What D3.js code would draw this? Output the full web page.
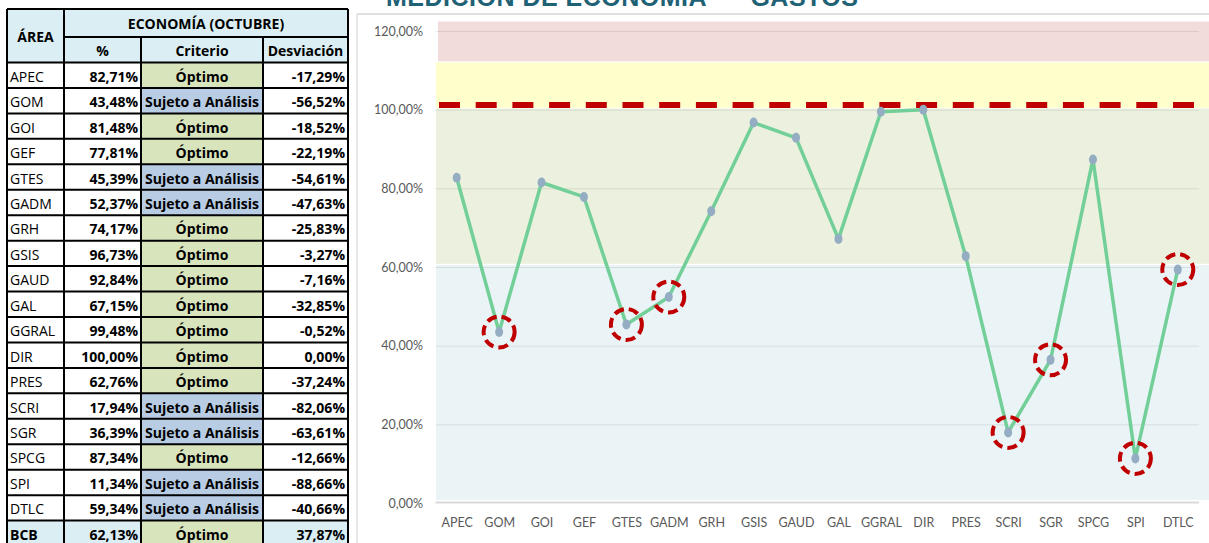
<!DOCTYPE html>
<html>
<head>
<meta charset="utf-8">
<script src="https://cdn.jsdelivr.net/npm/d3@7"></script>
<style>
  body { margin: 0; background: #fff; overflow: hidden; }
  svg { display: block; }
</style>
</head>
<body>
<svg id="chart"></svg>
<script>
// ---- data ----
const areas = ["APEC", "GOM", "GOI", "GEF", "GTES", "GADM", "GRH", "GSIS", "GAUD",
               "GAL", "GGRAL", "DIR", "PRES", "SCRI", "SGR", "SPCG", "SPI", "DTLC"];
const pct = [82.71, 43.48, 81.48, 77.81, 45.39, 52.37, 74.17, 96.73, 92.84,
             67.15, 99.48, 100.00, 62.76, 17.94, 36.39, 87.34, 11.34, 59.34];
const criterio = ["Óptimo", "Sujeto a Análisis", "Óptimo", "Óptimo", "Sujeto a Análisis",
                  "Sujeto a Análisis", "Óptimo", "Óptimo", "Óptimo", "Óptimo", "Óptimo",
                  "Óptimo", "Óptimo", "Sujeto a Análisis", "Sujeto a Análisis", "Óptimo",
                  "Sujeto a Análisis", "Sujeto a Análisis"];
const desviacion = [-17.29, -56.52, -18.52, -22.19, -54.61, -47.63, -25.83, -3.27, -7.16,
                    -32.85, -0.52, 0.00, -37.24, -82.06, -63.61, -12.66, -88.66, -40.66];
const totalRow = ["BCB", 62.13, "Óptimo", 37.87];
const headerTop = ["ÁREA", "ECONOMÍA (OCTUBRE)"];
const headerSub = ["%", "Criterio", "Desviación"];

const yTicks = [0, 20, 40, 60, 80, 100, 120];
const bandLo = [0.8, 60.8, 100.5, 112.3];
const bandHi = [60.5, 100.3, 112.0, 122.4];
const bandColors = ["#eaf4f7", "#ebf1de", "#ffffcc", "#f2dcdb"];
const refLine = 101.2;
const title = "MEDICIÓN DE ECONOMÍA  –  GASTOS";

// ---- setup ----
const width = 1209, height = 543;
const svg = d3.select("#chart").attr("width", width).attr("height", height);

const es = d3.formatLocale({ decimal: ",", thousands: ".", grouping: [3], currency: ["", "€"], minus: "-" });
const fmt = v => es.format(".2f")(v) + "%";

// ---- table ----
const colX = [7, 64, 141, 263, 348];
const rowTop = 62.5, rowH = 25.45;
const tableFont = "'Open Sans', sans-serif";
const table = svg.append("g").attr("font-family", tableFont).attr("font-size", "14px");

const rows = areas.map((a, i) => ({ area: a, pct: pct[i], crit: criterio[i], desv: desviacion[i], total: false }));
rows.push({ area: totalRow[0], pct: totalRow[1], crit: totalRow[2], desv: totalRow[3], total: true });

const critColor = c => c === "Óptimo" ? "#d8e4bc" : "#b8cce4";
const headBg = "#daeef3";

// header cells
table.append("rect").attr("x", colX[0]).attr("y", 9).attr("width", colX[4] - colX[0]).attr("height", rowTop - 9)
  .attr("fill", headBg);

rows.forEach((r, i) => {
  const y0 = rowTop + i * rowH;
  const g = table.append("g");
  const cells = [
    { x0: colX[0], x1: colX[1], fill: r.total ? headBg : "#fff" },
    { x0: colX[1], x1: colX[2], fill: r.total ? headBg : "#fff" },
    { x0: colX[2], x1: colX[3], fill: critColor(r.crit) },
    { x0: colX[3], x1: colX[4], fill: r.total ? headBg : "#fff" }
  ];
  g.selectAll("rect").data(cells).join("rect")
    .attr("x", d => d.x0).attr("y", y0).attr("width", d => d.x1 - d.x0).attr("height", rowH)
    .attr("fill", d => d.fill);
  const cy = y0 + rowH / 2 + 1;
  g.append("text").attr("x", colX[0] + 3).attr("y", cy).attr("dominant-baseline", "central")
    .attr("font-weight", r.total ? "bold" : "normal").text(r.area);
  g.append("text").attr("x", colX[2] - 3).attr("y", cy).attr("dominant-baseline", "central")
    .attr("text-anchor", "end").attr("font-weight", "bold").text(fmt(r.pct));
  g.append("text").attr("x", (colX[2] + colX[3]) / 2).attr("y", cy).attr("dominant-baseline", "central")
    .attr("text-anchor", "middle").attr("font-weight", "bold").text(r.crit);
  g.append("text").attr("x", colX[4] - 3).attr("y", cy).attr("dominant-baseline", "central")
    .attr("text-anchor", "end").attr("font-weight", "bold").text(fmt(r.desv));
});

// header text
table.append("text").attr("x", (colX[0] + colX[1]) / 2).attr("y", 36).attr("dominant-baseline", "central")
  .attr("text-anchor", "middle").attr("font-weight", "bold").text(headerTop[0]);
table.append("text").attr("x", (colX[1] + colX[4]) / 2).attr("y", 23).attr("dominant-baseline", "central")
  .attr("text-anchor", "middle").attr("font-weight", "bold").text(headerTop[1]);
headerSub.forEach((h, i) => {
  table.append("text").attr("x", (colX[i + 1] + colX[i + 2]) / 2).attr("y", 50.5)
    .attr("dominant-baseline", "central").attr("text-anchor", "middle").attr("font-weight", "bold").text(h);
});

// grid lines of the table
const tableBottom = rowTop + rows.length * rowH;
const lines = table.append("g").attr("stroke", "#000").attr("stroke-width", 2);
colX.forEach((x, i) => {
  const yStart = (i === 2 || i === 3) ? 37 : 9;
  lines.append("line").attr("x1", x).attr("x2", x).attr("y1", yStart).attr("y2", tableBottom);
});
lines.append("line").attr("x1", colX[0]).attr("x2", colX[4]).attr("y1", 9).attr("y2", 9);
lines.append("line").attr("x1", colX[1]).attr("x2", colX[4]).attr("y1", 37).attr("y2", 37);
d3.range(rows.length + 1).forEach(i => {
  const y = rowTop + i * rowH;
  lines.append("line").attr("x1", colX[0]).attr("x2", colX[4]).attr("y1", y).attr("y2", y);
});

// ---- chart ----
const plotLeft = 435.5, plotRight = 1199;
const x = d3.scalePoint().domain(areas).range([plotLeft, plotRight]).padding(0.5);
const y = d3.scaleLinear().domain([0, 120]).range([503, 31]);

// frame of the chart object
svg.append("line").attr("x1", 357).attr("x2", width).attr("y1", 14).attr("y2", 14)
  .attr("stroke", "#e0e0e0").attr("stroke-width", 2);
svg.append("line").attr("x1", 357).attr("x2", 357).attr("y1", 14).attr("y2", height)
  .attr("stroke", "#e0e0e0").attr("stroke-width", 1.5);

// title (cut by the top of the picture, as in the original)
svg.append("text").attr("x", 386).attr("y", 6)
  .attr("font-family", "'Liberation Sans', Arial, sans-serif").attr("font-weight", "bold")
  .attr("font-size", "25px").attr("letter-spacing", "0.5px").style("white-space", "pre")
  .attr("fill", "#1f6175").text(title);

// bands
svg.append("g").selectAll("rect").data(bandLo).join("rect")
  .attr("x", (d, i) => i === 3 ? 438 : 436)
  .attr("width", (d, i) => width - (i === 3 ? 438 : 436))
  .attr("y", (d, i) => y(bandHi[i]))
  .attr("height", (d, i) => y(d) - y(bandHi[i]))
  .attr("fill", (d, i) => bandColors[i]);

// gridlines
const grid = svg.append("g").attr("transform", `translate(${plotLeft},0)`)
  .call(d3.axisLeft(y).tickValues(yTicks.slice(1)).tickSize(-(plotRight - plotLeft)).tickFormat(""));
grid.select(".domain").remove();
grid.selectAll("line").attr("stroke", "#000").attr("stroke-opacity", 0.09);

// y axis labels
const yAxis = svg.append("g").attr("transform", `translate(423,0)`)
  .call(d3.axisLeft(y).tickValues(yTicks).tickSize(0).tickPadding(0).tickFormat(v => fmt(v)));
yAxis.select(".domain").remove();
yAxis.selectAll("text").attr("font-family", "Lato, sans-serif").attr("font-size", "12.5px").attr("fill", "#595959");

// x axis
const xAxis = svg.append("g").attr("transform", `translate(0,502.5)`)
  .call(d3.axisBottom(x).tickSize(0).tickPadding(16));
xAxis.select(".domain").attr("stroke", "#d9d9d9").attr("stroke-width", 2)
  .attr("d", `M${plotLeft},0H${plotRight}`);
xAxis.selectAll("text").attr("font-family", "Lato, sans-serif").attr("font-size", "12.5px").attr("fill", "#595959");

// reference dashed line
svg.append("line").attr("x1", 439).attr("x2", 1194).attr("y1", y(refLine)).attr("y2", y(refLine))
  .attr("stroke", "#c00000").attr("stroke-width", 6).attr("stroke-dasharray", "21,15.7");

// series line
const line = d3.line().x((d, i) => x(areas[i])).y(d => y(d));
svg.append("path").datum(pct).attr("d", line).attr("fill", "none")
  .attr("stroke", "#72cf98").attr("stroke-width", 3.5).attr("stroke-linejoin", "round");

svg.append("g").selectAll("ellipse").data(pct).join("ellipse")
  .attr("cx", (d, i) => x(areas[i])).attr("cy", d => y(d))
  .attr("rx", 4).attr("ry", 5).attr("fill", "#95adc3");

// red dashed circles on areas "Sujeto a Análisis"
const flagged = areas.map((a, i) => i).filter(i => criterio[i] === "Sujeto a Análisis");
svg.append("g").selectAll("circle").data(flagged).join("circle")
  .attr("cx", i => x(areas[i])).attr("cy", i => y(pct[i]))
  .attr("r", 15.5).attr("fill", "none").attr("stroke", "#c00000")
  .attr("stroke-width", 4).attr("stroke-dasharray", "10,5");
</script>
</body>
</html>
